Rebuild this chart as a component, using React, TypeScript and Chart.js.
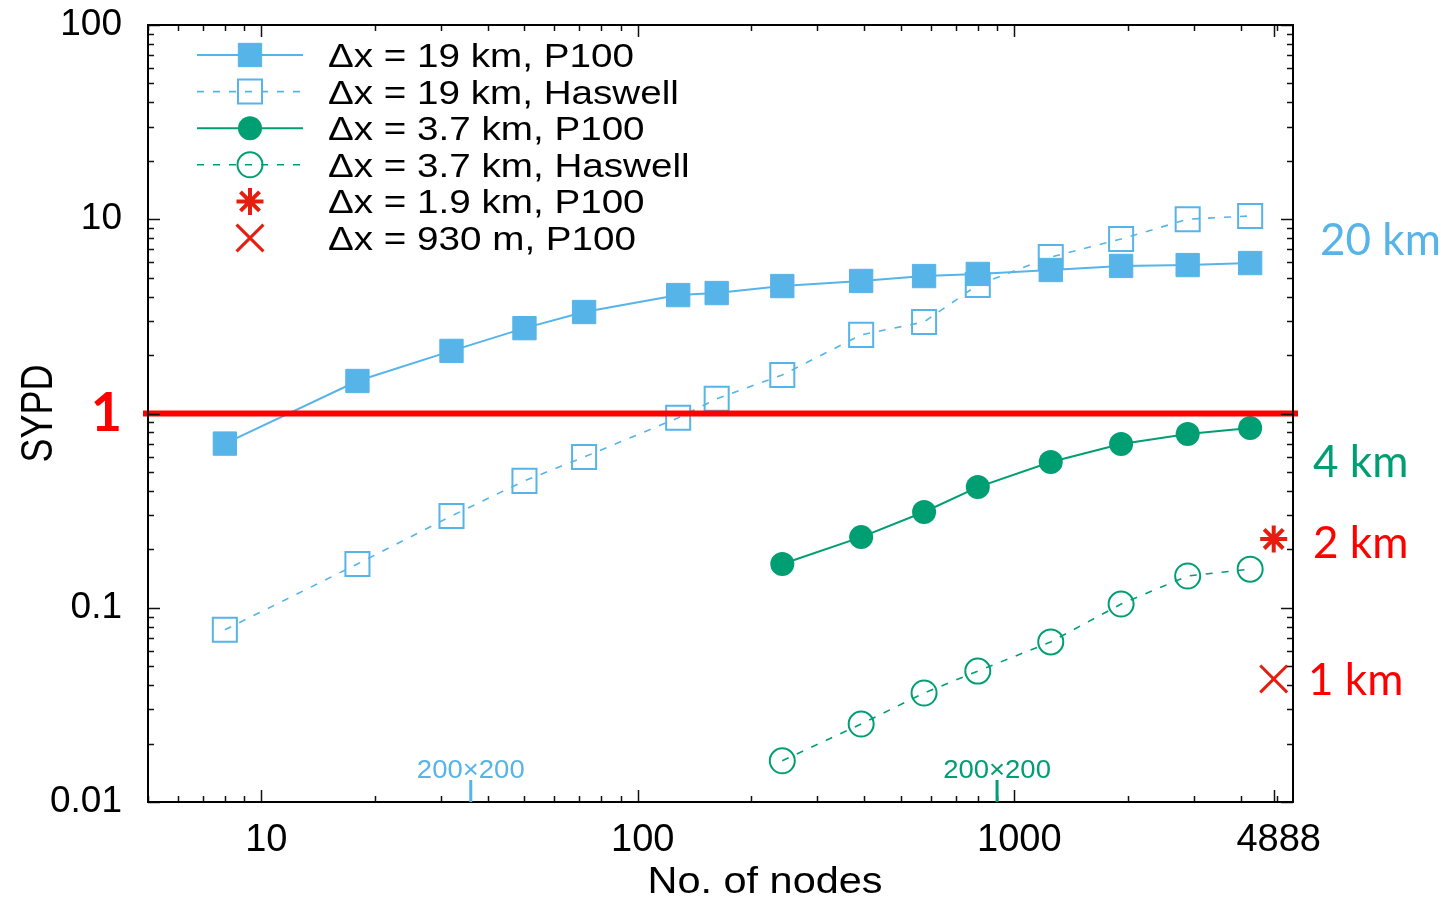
import React, { useEffect, useRef } from 'react';
import { Chart, registerables } from 'chart.js';

Chart.register(...registerables);

// ---------------- data ----------------
const nodes19 = [8, 18, 32, 50, 72, 128, 162, 242, 392, 576, 800, 1250, 1922, 2888, 4232];
const sypd19P100 = [0.70, 1.47, 2.10, 2.75, 3.33, 4.07, 4.17, 4.53, 4.81, 5.10, 5.23, 5.48, 5.75, 5.81, 5.95];
const sypd19Haswell = [0.077, 0.168, 0.297, 0.45, 0.597, 0.95, 1.19, 1.58, 2.54, 2.96, 4.59, 6.39, 7.91, 10.0, 10.4];
const nodes37 = [242, 392, 576, 800, 1250, 1922, 2888, 4232];
const sypd37P100 = [0.168, 0.231, 0.311, 0.418, 0.563, 0.697, 0.784, 0.842];
const sypd37Haswell = [0.0163, 0.0252, 0.0364, 0.0472, 0.0667, 0.1045, 0.1457, 0.158];
const nodes1p9 = [4888];
const sypd1p9P100 = [0.226];
const nodes930 = [4888];
const sypd930P100 = [0.043];

const seriesLabels = [
  'Δx = 19 km, P100',
  'Δx = 19 km, Haswell',
  'Δx = 3.7 km, P100',
  'Δx = 3.7 km, Haswell',
  'Δx = 1.9 km, P100',
  'Δx = 930 m, P100',
];

const xTickValues = [10, 100, 1000, 4888];
const xTickLabels = ['10', '100', '1000', '4888'];
const yTickValues = [0.01, 0.1, 1, 10, 100];
const yTickLabels = ['0.01', '0.1', '1', '10', '100'];
const xMin = 5;
const xMax = 5500;
const yMin = 0.01;
const yMax = 100;

const thresholdSYPD = 1;
const gridMarkNodes = [36, 900];
const gridMarkLabels = ['200×200', '200×200'];
const resolutionLabels = ['20 km', '4 km', '2 km', '1 km'];
const resolutionAnchorSYPD = [7.9, 0.57, 0.218, 0.043];

const xTitle = 'No. of nodes';
const yTitle = 'SYPD';

// ---------------- styles ----------------
const BLUE = '#56B4E9';
const GREEN = '#009E73';
const MRED = '#E51E10';
const RED = '#FF0000';
const CLEAR = 'rgba(0,0,0,0)';
const FONT = "'Liberation Sans', Arial, Helvetica, sans-serif";
const LABEL_FONT = "Lato, 'Open Sans', sans-serif";

const resolutionColors = [BLUE, GREEN, RED, RED];
const resolutionDx = [27, 20, 20, 15];
const gridMarkColors = [BLUE, GREEN];

const pts = (xs: number[], ys: number[]) => xs.map((x, i) => ({ x, y: ys[i] }));

function drawMarker(ctx: CanvasRenderingContext2D, style: string, x: number, y: number, r: number, fill: string, stroke: string, bw: number) {
  ctx.save();
  ctx.setLineDash([]);
  ctx.beginPath();
  if (style === 'rect') {
    const s = r * Math.SQRT1_2;
    ctx.rect(x - s, y - s, 2 * s, 2 * s);
  } else if (style === 'circle') {
    ctx.arc(x, y, r, 0, Math.PI * 2);
  } else if (style === 'star' || style === 'crossRot') {
    const d = r * Math.SQRT1_2;
    ctx.moveTo(x - d, y - d); ctx.lineTo(x + d, y + d);
    ctx.moveTo(x - d, y + d); ctx.lineTo(x + d, y - d);
    if (style === 'star') {
      ctx.moveTo(x - r, y); ctx.lineTo(x + r, y);
      ctx.moveTo(x, y - r); ctx.lineTo(x, y + r);
    }
  }
  if ((style === 'rect' || style === 'circle') && fill !== CLEAR) {
    ctx.fillStyle = fill;
    ctx.fill();
  }
  if (bw > 0) {
    ctx.lineWidth = bw;
    ctx.strokeStyle = stroke;
    ctx.stroke();
  }
  ctx.restore();
}

function logTicks(min: number, max: number) {
  const out: { v: number; major: boolean }[] = [];
  for (let d = Math.floor(Math.log10(min)); d <= Math.ceil(Math.log10(max)); d++) {
    for (let k = 1; k <= 9; k++) {
      const v = k * Math.pow(10, d);
      if (v >= min * 0.999 && v <= max * 1.001) out.push({ v, major: k === 1 });
    }
  }
  return out;
}

const decorPlugin = {
  id: 'decor',
  afterDatasetsDraw(chart: any) {
    const { ctx, chartArea: a, scales } = chart;
    const py = scales.y.getPixelForValue(thresholdSYPD);
    ctx.save();
    ctx.fillStyle = RED;
    ctx.fillRect(a.left - 5, py - 3, a.right - a.left + 10, 6);
    ctx.restore();
  },
  afterDraw(chart: any) {
    const { ctx, chartArea: a, scales } = chart;
    const xs = scales.x;
    const ys = scales.y;
    ctx.save();

    // ticks (inward, mirrored)
    ctx.strokeStyle = '#111';
    ctx.lineWidth = 1.5;
    ctx.beginPath();
    const xt = logTicks(xMin, xMax).concat([{ v: 4888, major: true }]);
    xt.forEach(({ v, major }) => {
      const px = Math.round(xs.getPixelForValue(v)) + 0.5;
      const L = major ? 12 : 6;
      ctx.moveTo(px, a.bottom); ctx.lineTo(px, a.bottom - L);
      ctx.moveTo(px, a.top); ctx.lineTo(px, a.top + L);
    });
    logTicks(yMin, yMax).forEach(({ v, major }) => {
      const py = Math.round(ys.getPixelForValue(v)) + 0.5;
      const L = major ? 12 : 6;
      ctx.moveTo(a.left, py); ctx.lineTo(a.left + L, py);
      ctx.moveTo(a.right, py); ctx.lineTo(a.right - L, py);
    });
    ctx.stroke();

    // frame
    ctx.lineWidth = 2;
    ctx.strokeStyle = '#000';
    ctx.strokeRect(a.left, a.top, a.right - a.left, a.bottom - a.top);

    // 200x200 marks
    gridMarkNodes.forEach((n, i) => {
      const px = xs.getPixelForValue(n);
      ctx.strokeStyle = gridMarkColors[i];
      ctx.lineWidth = 3;
      ctx.beginPath();
      ctx.moveTo(px, a.bottom);
      ctx.lineTo(px, a.bottom - 22);
      ctx.stroke();
      ctx.save();
      ctx.translate(px, a.bottom - 24);
      ctx.scale(1.1, 1);
      ctx.fillStyle = gridMarkColors[i];
      ctx.font = `25px ${FONT}`;
      ctx.textAlign = 'center';
      ctx.textBaseline = 'alphabetic';
      ctx.fillText(gridMarkLabels[i], 0, 0);
      ctx.restore();
    });

    // resolution labels on the right
    resolutionLabels.forEach((t, i) => {
      const py = ys.getPixelForValue(resolutionAnchorSYPD[i]);
      ctx.fillStyle = resolutionColors[i];
      ctx.font = `44px ${LABEL_FONT}`;
      ctx.textAlign = 'left';
      ctx.textBaseline = 'alphabetic';
      ctx.fillText(t, a.right + resolutionDx[i], py + 16);
    });

    // legend
    const lx0 = a.left + 49;
    const lx1 = a.left + 155;
    const lmx = a.left + 102;
    const ltx = a.left + 180;
    chart.data.datasets.forEach((ds: any, i: number) => {
      const y = a.top + 30 + i * 36.6;
      if (ds.showLine !== false) {
        ctx.save();
        ctx.strokeStyle = ds.borderColor;
        ctx.lineWidth = ds.borderWidth;
        ctx.setLineDash(ds.borderDash || []);
        ctx.beginPath();
        ctx.moveTo(lx0, y);
        ctx.lineTo(lx1, y);
        ctx.stroke();
        ctx.restore();
      }
      drawMarker(ctx, ds.pointStyle, lmx, y, ds.pointRadius, ds.pointBackgroundColor, ds.pointBorderColor, ds.pointBorderWidth);
      ctx.save();
      ctx.translate(ltx, y + 12);
      ctx.scale(1.17, 1);
      ctx.fillStyle = '#000';
      ctx.font = `33px ${FONT}`;
      ctx.textAlign = 'left';
      ctx.textBaseline = 'alphabetic';
      ctx.fillText(ds.label, 0, 0);
      ctx.restore();
    });

    // axis titles
    ctx.save();
    ctx.translate(765, 893);
    ctx.scale(1.12, 1);
    ctx.fillStyle = '#000';
    ctx.font = `37px ${FONT}`;
    ctx.textAlign = 'center';
    ctx.textBaseline = 'alphabetic';
    ctx.fillText(xTitle, 0, 0);
    ctx.restore();

    ctx.save();
    ctx.translate(52, (a.top + a.bottom) / 2);
    ctx.rotate(-Math.PI / 2);
    ctx.scale(1, 1.24);
    ctx.fillStyle = '#000';
    ctx.font = `36px ${FONT}`;
    ctx.textAlign = 'center';
    ctx.textBaseline = 'alphabetic';
    ctx.fillText(yTitle, 0, 0);
    ctx.restore();

    ctx.restore();
  },
};

export default function App() {
  const ref = useRef<HTMLCanvasElement>(null);
  useEffect(() => {
    const datasets: any[] = [
      {
        label: seriesLabels[0], data: pts(nodes19, sypd19P100),
        borderColor: BLUE, backgroundColor: BLUE, borderWidth: 2,
        pointStyle: 'rect', pointRadius: 16.5, pointBackgroundColor: BLUE, pointBorderColor: BLUE, pointBorderWidth: 1,
      },
      {
        label: seriesLabels[1], data: pts(nodes19, sypd19Haswell),
        borderColor: BLUE, backgroundColor: CLEAR, borderWidth: 1.6, borderDash: [7, 9],
        pointStyle: 'rect', pointRadius: 17, pointBackgroundColor: CLEAR, pointBorderColor: BLUE, pointBorderWidth: 2,
      },
      {
        label: seriesLabels[2], data: pts(nodes37, sypd37P100),
        borderColor: GREEN, backgroundColor: GREEN, borderWidth: 2,
        pointStyle: 'circle', pointRadius: 12, pointBackgroundColor: GREEN, pointBorderColor: GREEN, pointBorderWidth: 0,
      },
      {
        label: seriesLabels[3], data: pts(nodes37, sypd37Haswell),
        borderColor: GREEN, backgroundColor: CLEAR, borderWidth: 1.6, borderDash: [7, 9],
        pointStyle: 'circle', pointRadius: 12.5, pointBackgroundColor: CLEAR, pointBorderColor: GREEN, pointBorderWidth: 2,
      },
      {
        label: seriesLabels[4], data: pts(nodes1p9, sypd1p9P100), showLine: false,
        borderColor: MRED, backgroundColor: MRED, borderWidth: 3,
        pointStyle: 'star', pointRadius: 13.5, pointBackgroundColor: MRED, pointBorderColor: MRED, pointBorderWidth: 4,
      },
      {
        label: seriesLabels[5], data: pts(nodes930, sypd930P100), showLine: false,
        borderColor: MRED, backgroundColor: MRED, borderWidth: 3,
        pointStyle: 'crossRot', pointRadius: 19, pointBackgroundColor: MRED, pointBorderColor: MRED, pointBorderWidth: 3,
      },
    ];
    datasets.forEach((d) => { d.tension = 0; d.fill = false; d.clip = false; d.pointHoverRadius = d.pointRadius; });

    const chart = new Chart(ref.current as HTMLCanvasElement, {
      type: 'line',
      data: { datasets },
      options: {
        animation: false,
        responsive: false,
        devicePixelRatio: 1,
        events: [],
        layout: { padding: { top: 25, right: 159, left: 0, bottom: 0 } },
        plugins: { legend: { display: false }, tooltip: { enabled: false } },
        scales: {
          x: {
            type: 'logarithmic', min: xMin, max: xMax,
            grid: { display: false, drawTicks: false },
            border: { display: false },
            afterBuildTicks: (s: any) => { s.ticks = xTickValues.map((v) => ({ value: v })); },
            afterFit: (s: any) => { s.height = 98; s.paddingLeft = 0; s.paddingRight = 0; s.paddingTop = 0; s.paddingBottom = 0; },
            ticks: {
              autoSkip: false, maxRotation: 0, minRotation: 0, padding: 16, labelOffset: 5,
              color: '#000', font: { family: FONT, size: 38 },
              callback: (v: any) => { const i = xTickValues.indexOf(Number(v)); return i >= 0 ? xTickLabels[i] : ''; },
            },
          },
          y: {
            type: 'logarithmic', min: yMin, max: yMax,
            grid: { display: false, drawTicks: false },
            border: { display: false },
            afterBuildTicks: (s: any) => { s.ticks = yTickValues.map((v) => ({ value: v })); },
            afterFit: (s: any) => { s.width = 148; s.paddingTop = 0; s.paddingBottom = 0; s.paddingLeft = 0; s.paddingRight = 0; },
            ticks: {
              autoSkip: false, padding: 26,
              color: (c: any) => (c.tick && c.tick.value === thresholdSYPD ? RED : '#000'),
              font: (c: any) => (c.tick && c.tick.value === thresholdSYPD
                ? { family: LABEL_FONT, size: 54, weight: 'bold' }
                : { family: FONT, size: 37 }),
              callback: (v: any) => { const i = yTickValues.indexOf(Number(v)); return i >= 0 ? yTickLabels[i] : ''; },
            },
          },
        },
      } as any,
      plugins: [decorPlugin],
    });
    return () => chart.destroy();
  }, []);

  return (
    <div style={{ position: 'absolute', left: 0, top: 0, width: 1452, height: 900, background: '#fff' }}>
      <canvas ref={ref} width={1452} height={900} style={{ display: 'block', width: 1452, height: 900 }} />
    </div>
  );
}
